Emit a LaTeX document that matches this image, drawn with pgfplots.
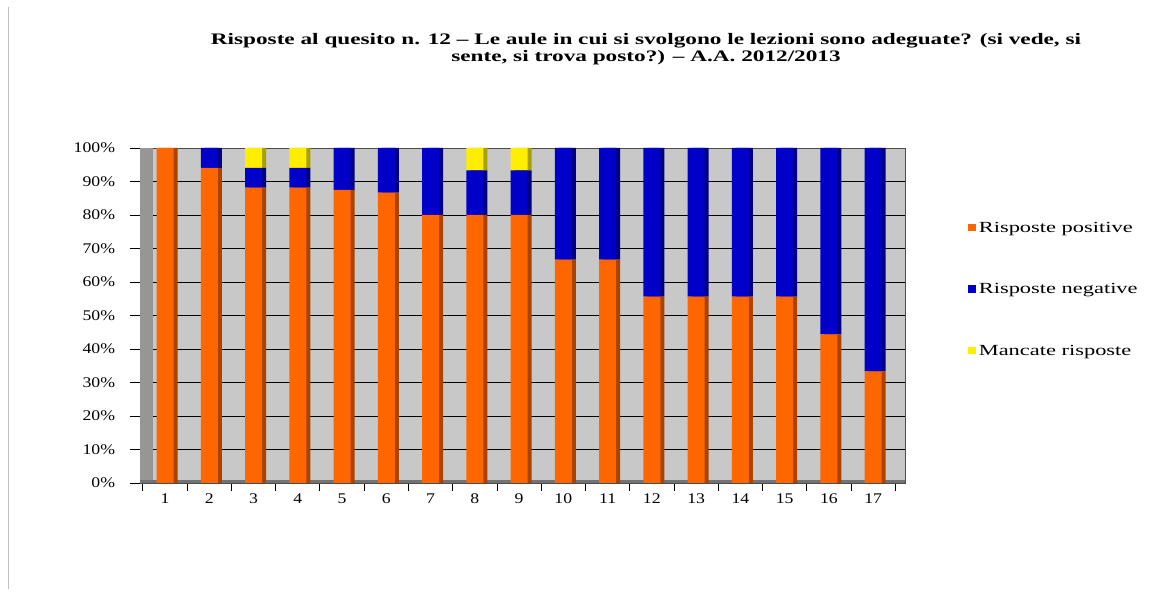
\documentclass[border=0pt]{standalone}
\usepackage{pgfplots}
\usepackage{pgfplotstable}
\pgfplotsset{compat=1.18}
\usepackage{fontspec}
\setmainfont{Liberation Serif}
\newfontfamily\widefont[FakeStretch=1.45,Ligatures=TeX]{Liberation Serif}
\newfontfamily\tickfont[FakeStretch=1.2]{Liberation Serif}
\definecolor{posc}{HTML}{FF6600}
\definecolor{posd}{HTML}{A84300}
\definecolor{negc}{HTML}{0000C8}
\definecolor{negd}{HTML}{000080}
\definecolor{nrc}{HTML}{FFEE00}
\definecolor{nrd}{HTML}{A8A000}
\definecolor{bggray}{HTML}{C8C8C8}
\definecolor{wallgray}{HTML}{969696}
\pgfplotstableread{
x pos neg nr
1 100 0 0
2 94.1 5.9 0
3 88.2 5.9 5.9
4 88.2 5.9 5.9
5 87.5 12.5 0
6 86.7 13.3 0
7 80 20 0
8 80 13.3 6.7
9 80 13.3 6.7
10 66.7 33.3 0
11 66.7 33.3 0
12 55.6 44.4 0
13 55.6 44.4 0
14 55.6 44.4 0
15 55.6 44.4 0
16 44.4 55.6 0
17 33.3 66.7 0
}\data
\pgfplotsset{base/.style={at={(3.5cm,2.8cm)}, anchor=south west,
  width=19.125cm, height=8.375cm, scale only axis,
  xmin=0.435, xmax=17.72, ymin=0, ymax=100}}
\begin{document}
\begin{tikzpicture}
\path (0,0) rectangle (29.075cm,14.875cm);
\draw[gray!50, line width=0.6pt] (0.2cm,0.15cm) -- (0.2cm,14.7cm);
\node[font=\widefont\fontsize{11.4}{12}\selectfont\bfseries, align=center] at (16.15cm,13.65cm)
 {Risposte al quesito n. 12 – Le aule in cui si svolgono le lezioni sono adeguate? (si vede, si\\ sente, si trova posto?) – A.A. 2012/2013};
% background axis with grid and ticks
\begin{axis}[base,
  axis background/.style={fill=bggray},
  axis line style={draw=black!70, line width=0.6pt},
  ymajorgrids, grid style={black, line width=0.6pt},
  ytick={0,10,...,100},
  yticklabel={\pgfmathprintnumber{\tick}\%},
  yticklabel style={xshift=-0.25cm},
  xtick={1,...,17},
  minor xtick={0.5,1.5,...,17.5},
  major x tick style={draw=none},
  tick align=outside,
  tick style={black, line width=0.6pt},
  major tick length=0.25cm, minor tick length=0.2cm,
  ticklabel style={font=\tickfont\fontsize{10.5}{12}\selectfont},
  /pgf/number format/assume math mode=true,
  xticklabel style={yshift=0.1cm},
  ytick pos=left, xtick pos=bottom,
]
\fill[wallgray] (axis cs:0.435,0) rectangle (axis cs:0.735,100);
\fill[black!55] (axis cs:0.435,0) rectangle (axis cs:17.72,0.9);
\end{axis}
% dark side faces
\begin{axis}[base, hide axis, ybar stacked, bar width=0.425cm, bar shift=0.1cm]
\addplot[fill=posd, draw=none] table[x=x,y=pos]{\data};
\addplot[fill=negd, draw=none] table[x=x,y=neg]{\data};
\addplot[fill=nrd, draw=none] table[x=x,y=nr]{\data};
\end{axis}
% front faces
\begin{axis}[base, hide axis, ybar stacked, bar width=0.425cm,
  legend style={at={(1.082,0.787)}, anchor=north west, draw=none, fill=none,
    font=\widefont\fontsize{11}{12}\selectfont, row sep=1.08cm, inner sep=0pt},
  legend cell align=left,
  area legend,
  legend image code/.code={\fill[#1] (0cm,-0.07cm) rectangle (0.2cm,0.11cm);},
]
\addplot[fill=posc, draw=none] table[x=x,y=pos]{\data};
\addlegendentry{Risposte positive}
\addplot[fill=negc, draw=none] table[x=x,y=neg]{\data};
\addlegendentry{Risposte negative}
\addplot[fill=nrc, draw=none] table[x=x,y=nr]{\data};
\addlegendentry{Mancate risposte}
\end{axis}
\end{tikzpicture}
\end{document}
